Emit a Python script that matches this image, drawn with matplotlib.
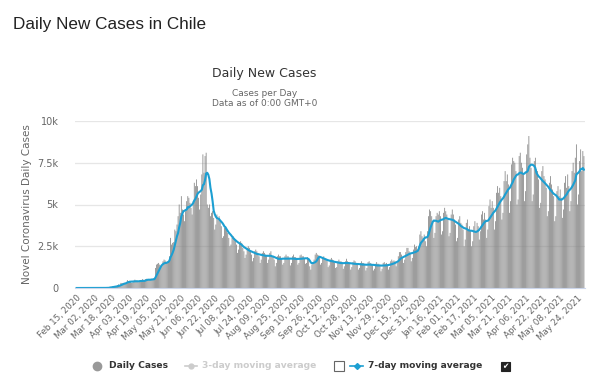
import pandas as pd
import matplotlib
matplotlib.use('Agg')
import matplotlib.pyplot as plt
from matplotlib.lines import Line2D
from matplotlib.patches import Rectangle

start_date = '2020-02-15'

# daily new cases, one row per week (Sat .. Fri)
weekly_rows = [
    [0, 0, 0, 0, 0, 0, 0],
    [0, 0, 0, 0, 0, 0, 0],
    [0, 0, 0, 1, 0, 2, 1],
    [2, 3, 3, 3, 6, 10, 10],
    [18, 14, 19, 81, 45, 104, 96],
    [103, 95, 114, 176, 220, 164, 304],
    [299, 293, 310, 289, 362, 473, 412],
    [430, 395, 310, 330, 426, 499, 430],
    [436, 346, 392, 386, 440, 529, 477],
    [419, 534, 553, 494, 485, 482, 552],
    [540, 520, 600, 1200, 1400, 1450, 1500],
    [1400, 1350, 1300, 1600, 1700, 1650, 1500],
    [1600, 1550, 1900, 3000, 2600, 2700, 2750],
    [3500, 3400, 3800, 4300, 5000, 4500, 5500],
    [4700, 4400, 4000, 4600, 5200, 5500, 5400],
    [5100, 4800, 4400, 5200, 6300, 6100, 6500],
    [6100, 5400, 4700, 5600, 6800, 8000, 6900],
    [7900, 8100, 5000, 4800, 5000, 4300, 4500],
    [4600, 4200, 3500, 3800, 4400, 4100, 4300],
    [4000, 3700, 3000, 3100, 3600, 3700, 3500],
    [3300, 3000, 2500, 2600, 3000, 3100, 3000],
    [2900, 2600, 2100, 2300, 2700, 2800, 2700],
    [2400, 2200, 1800, 2000, 2400, 2500, 2400],
    [2200, 2000, 1600, 1800, 2200, 2300, 2200],
    [2100, 1900, 1500, 1700, 2100, 2200, 2100],
    [2000, 1900, 1500, 1700, 2100, 2200, 1900],
    [1900, 1700, 1300, 1500, 1900, 2000, 1900],
    [1900, 1700, 1400, 1500, 1900, 2000, 1900],
    [1900, 1750, 1350, 1500, 1900, 2000, 1850],
    [1850, 1700, 1400, 1500, 1950, 2000, 1900],
    [1900, 1750, 1450, 1500, 1850, 1750, 1300],
    [1100, 1400, 1550, 1700, 2000, 2100, 2000],
    [1950, 1800, 1400, 1500, 1800, 1900, 1800],
    [1750, 1650, 1250, 1350, 1700, 1800, 1700],
    [1650, 1500, 1200, 1250, 1600, 1700, 1600],
    [1600, 1500, 1150, 1300, 1600, 1750, 1600],
    [1550, 1450, 1100, 1250, 1550, 1650, 1600],
    [1500, 1400, 1100, 1200, 1500, 1600, 1500],
    [1500, 1400, 1050, 1200, 1550, 1600, 1500],
    [1450, 1350, 1050, 1150, 1450, 1550, 1450],
    [1450, 1350, 1000, 1150, 1500, 1550, 1450],
    [1500, 1400, 1100, 1250, 1600, 1700, 1600],
    [1650, 1600, 1300, 1500, 1900, 2150, 2150],
    [2000, 1850, 1500, 1700, 2150, 2400, 2400],
    [2200, 2100, 1600, 1800, 2300, 2600, 2450],
    [2500, 2300, 2500, 3200, 3400, 3100, 3000],
    [3200, 2800, 2500, 3400, 4300, 4700, 4600],
    [4300, 4000, 3000, 3300, 4300, 4500, 4400],
    [4600, 4300, 3200, 3400, 4500, 4800, 4600],
    [4400, 4100, 3100, 3300, 4400, 4700, 4400],
    [4100, 3800, 2800, 3000, 4100, 4300, 3900],
    [3800, 3500, 2500, 2900, 3900, 4100, 3500],
    [3700, 3400, 2500, 2800, 3700, 4000, 3400],
    [3900, 3700, 2900, 3400, 4400, 4600, 4100],
    [4500, 4100, 3000, 3500, 4900, 5300, 4800],
    [5200, 4800, 3500, 4000, 5700, 6100, 5700],
    [6000, 5500, 4100, 4500, 6400, 7000, 6400],
    [6800, 6200, 4500, 5200, 7400, 7800, 7600],
    [7500, 7000, 5000, 5300, 7900, 8100, 7500],
    [7200, 6800, 5200, 5800, 8000, 8600, 9100],
    [7800, 7200, 5200, 5600, 7600, 7800, 7100],
    [7000, 6500, 4800, 5100, 7000, 7300, 6700],
    [6500, 6000, 4300, 4600, 6300, 6700, 6200],
    [5900, 5500, 4000, 4300, 5800, 6100, 5500],
    [5900, 5400, 4200, 4700, 6300, 6700, 6000],
    [6800, 6100, 4600, 5200, 7000, 7500, 6900],
    [7800, 8600, 5000, 5600, 7600, 8300, 7000],
    [8200, 7900],
]
daily_cases = [v for row in weekly_rows for v in row]
dates = pd.date_range(start_date, periods=len(daily_cases), freq='D')
tick_dates = pd.date_range(start_date, '2021-05-24', freq='16D')
y_ticks = [0, 2500, 5000, 7500, 10000]
y_tick_labels = ['0', '2.5k', '5k', '7.5k', '10k']

BAR_COLOR = '#7f7f7f'
LINE_COLOR = '#1c9fd2'
GRAY_TEXT = '#666666'

avg7 = pd.Series(daily_cases, index=dates).rolling(7, min_periods=1).mean()


def px(x, y):
    # pixel position in the 600x387 figure -> figure fraction
    return x / 600, 1 - y / 387


fig = plt.figure(figsize=(6, 3.87), dpi=100)
ax = fig.add_axes([75 / 600, 1 - 288 / 387, 510 / 600, 167 / 387])

ax.bar(dates, daily_cases, width=0.7, color=BAR_COLOR, linewidth=0, snap=False)
ax.plot(avg7.index, avg7.values, color=LINE_COLOR, linewidth=1.5)

ax.set_ylim(0, 10000)
ax.set_xlim(dates[0] - pd.Timedelta(days=1.5), dates[-1] + pd.Timedelta(days=1))
ax.set_yticks(y_ticks)
ax.set_yticklabels(y_tick_labels, fontsize=7, color=GRAY_TEXT)
ax.set_xticks(tick_dates)
ax.set_xticklabels([d.strftime('%b %d, %Y') for d in tick_dates], rotation=45,
                   ha='right', rotation_mode='anchor', fontsize=6.3, color=GRAY_TEXT)
ax.tick_params(axis='both', length=0, pad=4)
ax.tick_params(axis='y', pad=12)
ax.grid(axis='y', color='#e6e6e6', linewidth=0.9)
ax.set_axisbelow(True)
for side in ['top', 'right', 'left']:
    ax.spines[side].set_visible(False)
ax.spines['bottom'].set_color('#ccd6eb')
ax.set_ylabel('Novel Coronavirus Daily Cases', fontsize=7.5, color=GRAY_TEXT)
ax.yaxis.set_label_coords(-0.084, 0.5)

fig.text(*px(13, 24), 'Daily New Cases in Chile', fontsize=12.3, family='Liberation Sans',
         va='center', color='#222222')
fig.text(*px(264, 74), 'Daily New Cases', fontsize=9, ha='center', va='center', color='#333333')
fig.text(*px(265, 93), 'Cases per Day', fontsize=6.5, ha='center', va='center', color=GRAY_TEXT)
fig.text(*px(265, 103), 'Data as of 0:00 GMT+0', fontsize=6.5, ha='center', va='center',
         color=GRAY_TEXT)

# legend row
ly = 366
fs = 6.6
fig.add_artist(Line2D([px(97, ly)[0]], [px(97, ly)[1]], marker='o', markersize=6,
                      color='#999999', linestyle='none'))
fig.text(*px(109, ly), 'Daily Cases', fontsize=fs, weight='bold', va='center', color='#333333')
x0, y0 = px(185, ly)
x1, _ = px(197, ly)
fig.add_artist(Line2D([x0, x1], [y0, y0], color='#cccccc', linewidth=1.2))
fig.add_artist(Line2D([(x0 + x1) / 2], [y0], marker='o', markersize=3.5, color='#cccccc'))
fig.text(*px(202, ly), '3-day moving average', fontsize=fs, weight='bold', va='center',
         color='#cccccc')
bx, by = px(334, ly + 5)
fig.add_artist(Rectangle((bx, by), 10 / 600, 10 / 387, facecolor='white', edgecolor='#666666',
                         linewidth=0.8))
x0, y0 = px(350, ly)
x1, _ = px(363, ly)
fig.add_artist(Line2D([x0, x1], [y0, y0], color=LINE_COLOR, linewidth=1.2))
fig.add_artist(Line2D([(x0 + x1) / 2], [y0], marker='D', markersize=3, color=LINE_COLOR))
fig.text(*px(368, ly), '7-day moving average', fontsize=fs, weight='bold', va='center',
         color='#333333')
bx, by = px(501, ly + 5)
fig.add_artist(Rectangle((bx, by), 9 / 600, 9 / 387, facecolor='#222222', edgecolor='#222222',
                         linewidth=0.8))
fig.text(*px(505.5, ly + 0.5), '\u2714', fontsize=5.5, color='white', ha='center', va='center')

fig.savefig('out.png', dpi=100)
